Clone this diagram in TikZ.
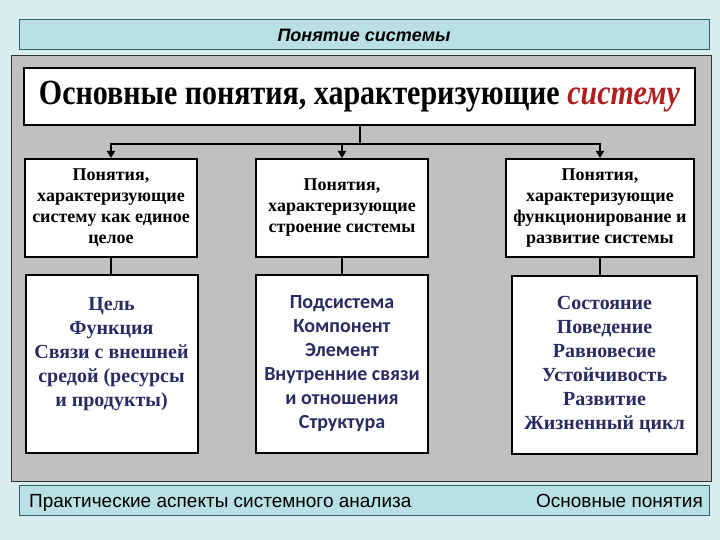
\documentclass[tikz,border=0pt]{standalone}
\usepackage{fontspec}
\setmainfont{Liberation Serif}
\setsansfont{Liberation Sans}
\newfontfamily\calfont{Carlito}
\usetikzlibrary{arrows.meta}
\definecolor{pagebg}{HTML}{D9EDEF}
\definecolor{barfill}{HTML}{B9E0E5}
\definecolor{barline}{HTML}{2F5F6A}
\definecolor{panelgray}{HTML}{C0C0C0}
\definecolor{navytext}{HTML}{2B2A62}
\definecolor{sysred}{HTML}{B01E1E}
\tikzset{
  bar/.style={draw=barline, line width=1pt, fill=barfill, minimum width=690, minimum height=30, inner sep=0pt},
  conceptbox/.style={draw=black, line width=2pt, fill=white, minimum width=172, minimum height=98,
    align=center, inner sep=1pt, font=\bfseries\fontsize{18}{21}\selectfont},
  listbox/.style={draw=black, line width=2pt, fill=white, minimum width=172, minimum height=178,
    align=center, inner sep=1pt, text=navytext, font=\bfseries\fontsize{20}{24}\selectfont},
  foottext/.style={font=\sffamily\fontsize{19}{21}\selectfont, inner sep=0pt},
  link/.style={line width=2pt},
  linkarrow/.style={line width=2pt, -{Triangle[length=7pt,width=8pt]}}
}
\begin{document}
\begin{tikzpicture}[x=1pt, y=-1pt]
  \useasboundingbox (0,0) rectangle (720,540);
  \fill[pagebg] (0,0) rectangle (720,540);
  % title bar and grey panel
  \node[bar, font=\sffamily\bfseries\itshape\fontsize{18}{20}\selectfont] (titlebar) at (364,35) {Понятие системы};
  \draw[fill=panelgray, draw=black!80, line width=1pt] (11,56) rectangle (711,481);
  \node[draw=black, line width=2.5pt, fill=white, minimum width=671, minimum height=57,
    font=\bfseries\fontsize{30}{34}\selectfont] (main) at (359.5,96.5)
    {\scalebox{1}[1.18]{Основные понятия, характеризующие \textcolor{sysred}{\itshape систему}}};
  % first row
  \node[conceptbox] (c1) at (111,208) {Понятия,\\характеризующие\\систему как единое\\целое};
  \node[conceptbox] (c2) at (342,208) {Понятия,\\характеризующие\\строение системы};
  \node[conceptbox, minimum width=188] (c3) at (600,208) {Понятия,\\характеризующие\\функционирование и\\развитие системы};
  % second row
  \node[listbox] (l1) at (111.5,364) {Цель\\Функция\\Связи с внешней\\средой (ресурсы\\и продукты)\\\mbox{}};
  \node[listbox, font=\calfont\bfseries\fontsize{20}{24}\selectfont] (l2) at (342,364) {Подсистема\\Компонент\\Элемент\\Внутренние связи\\и отношения\\Структура};
  \node[listbox, minimum width=185] (l3) at (604.5,365) {Состояние\\Поведение\\Равновесие\\Устойчивость\\Развитие\\Жизненный цикл};
  % connectors
  \draw[link] (main.south) -- ++(0,18) coordinate (split);
  \foreach \b in {c1,c2,c3}
    \draw[linkarrow] (split) -| (\b.north);
  \draw[link] (c1.south) -- (l1.north -| c1.south);
  \draw[link] (c2.south) -- (l2.north -| c2.south);
  \draw[link] (c3.south) -- (l3.north -| c3.south);
  % footer
  \node[bar] (footer) at (364,500) {};
  \node[foottext, anchor=base west] (footleft) at (29,507) {Практические аспекты системного анализа};
  \node[foottext, anchor=base east] (footright) at (703,507) {Основные понятия};
\end{tikzpicture}
\end{document}
